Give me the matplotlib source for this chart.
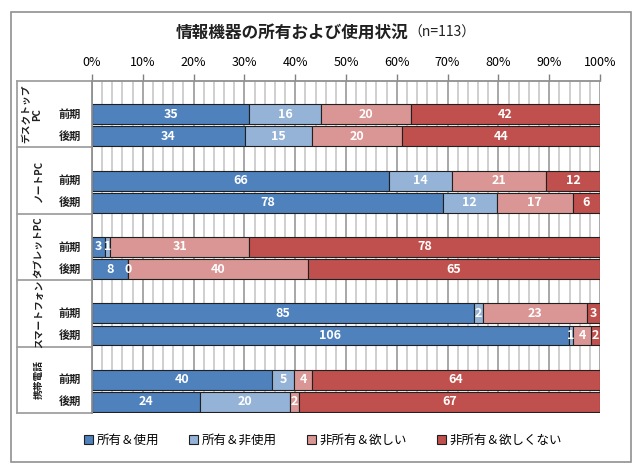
import matplotlib
matplotlib.use("Agg")
import matplotlib.pyplot as plt
import numpy as np
from matplotlib.patches import Rectangle, Patch

plt.rcParams['font.family'] = ['Noto Sans CJK JP', 'DejaVu Sans']

# data (counts, n=113)
devices = ['デスクトップ\nPC', 'ノートPC', 'タブレットPC', 'スマートフォン', '携帯電話']
periods = ['前期', '後期']
series = ['所有＆使用', '所有＆非使用', '非所有＆欲しい', '非所有＆欲しくない']
colors = ['#4F81BD', '#95B3D7', '#DA9694', '#C0504D']
own_use = [35, 34, 66, 78, 3, 8, 85, 106, 40, 24]
own_nouse = [16, 15, 14, 12, 1, 0, 2, 1, 5, 20]
no_want = [20, 20, 21, 17, 31, 40, 23, 4, 4, 2]
no_nowant = [42, 44, 12, 6, 78, 65, 3, 2, 64, 67]

vals = np.array([own_use, own_nouse, no_want, no_nowant], dtype=float)
totals = vals.sum(axis=0)
pct = vals / totals * 100

fig = plt.figure(figsize=(6.4, 4.72), dpi=100)
ax = fig.add_axes([92/640, 1-413/472, 508/640, 332/472])

# row positions: each device gets 3 slots, first one empty
ypos = []
for g in range(len(devices)):
    ypos += [3*g + 1.5, 3*g + 2.5]
ypos = np.array(ypos)

# grid
for x in np.arange(0, 101, 2):
    if x % 10 == 0:
        ax.axvline(x, color='#a0a0a0', lw=1.3, zorder=0)
    else:
        ax.axvline(x, color='#cccccc', lw=1.3, zorder=0)

left = np.zeros(len(ypos))
for i in range(4):
    ax.barh(ypos, pct[i], left=left, height=0.9, color=colors[i],
            edgecolor='#202020', linewidth=0.8, zorder=2)
    for j in range(len(ypos)):
        ax.text(left[j] + pct[i][j]/2, ypos[j], str(int(vals[i][j])),
                ha='center', va='center', color='white', fontsize=9,
                fontweight='bold', zorder=3)
    left += pct[i]

ax.set_xlim(0, 100)
ax.set_ylim(15, 0)
ax.xaxis.tick_top()
ax.set_xticks(np.arange(0, 101, 10))
ax.set_xticklabels([f'{t}%' for t in range(0, 101, 10)], fontsize=9)
ax.tick_params(axis='x', length=5, width=1, color='#808080', pad=4)
ax.set_yticks([])
for s in ['right', 'bottom']:
    ax.spines[s].set_visible(False)
ax.spines['top'].set_color('#909090')
ax.spines['top'].set_linewidth(1.3)
ax.spines['left'].set_color('#909090')
ax.spines['left'].set_linewidth(1.3)

# category label box
tr = ax.get_yaxis_transform()
xl = (17 - 92) / 508
for b in range(6):
    ax.plot([xl, 0], [3*b, 3*b], transform=tr, color='#a0a0a0', lw=1.3,
            clip_on=False)
ax.plot([xl, xl], [0, 15], transform=tr, color='#a0a0a0', lw=1.3, clip_on=False)

xp = (70 - 92) / 508
for j, y in enumerate(ypos):
    ax.text(xp, y, periods[j % 2], transform=tr, ha='center', va='center',
            fontsize=8, fontweight='bold', color='#202020')
for g, name in enumerate(devices):
    xg = (32 - 92) / 508 if '\n' in name else (39 - 92) / 508
    ax.text(xg, 3*g + 1.5, name, transform=tr, ha='center', va='center',
            rotation=90, fontsize=7, fontweight='bold', color='#202020',
            linespacing=1.1)

# title
fig.text(408/640, 1-33/472, '情報機器の所有および使用状況', ha='right', va='center',
         fontsize=12, fontweight='bold', color='#202020')
fig.text(408/640, 1-33/472, '（n=113）', ha='left', va='center',
         fontsize=10, color='#202020')

# legend
handles = [Patch(facecolor=c, edgecolor='#202020', lw=0.8) for c in colors]
fig.legend(handles, series, loc='center', bbox_to_anchor=(0.505, 1-440/472),
           ncol=4, frameon=False, fontsize=9, handlelength=0.7, handleheight=0.7,
           handletextpad=0.3, columnspacing=2.4)

# outer frame
fig.patches.append(Rectangle((11/640, 1-462/472), 620/640, 450/472,
                             transform=fig.transFigure, fill=False,
                             edgecolor='#909090', lw=1.2))

fig.savefig('out.png', dpi=100)
